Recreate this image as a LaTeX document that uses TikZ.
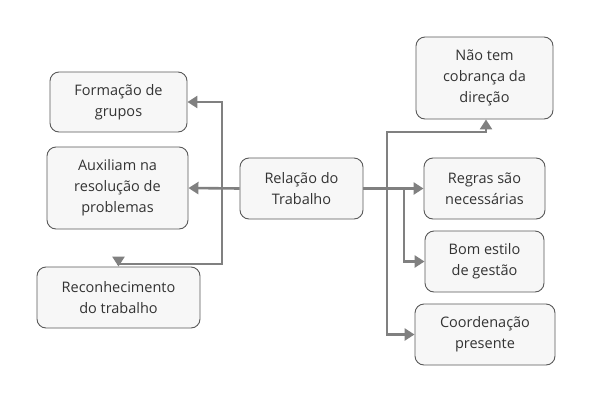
\documentclass[tikz,border=0pt]{standalone}
\usepackage{fontspec}
\setmainfont{Open Sans}
\usetikzlibrary{arrows.meta,calc}
\begin{document}
\begin{tikzpicture}[x=1pt,y=-1pt,
  box/.style={draw=black!65,line width=0.9pt,fill=black!3,rounded corners=9pt,
    align=center,inner sep=0pt,font=\fontsize{14.5}{21}\selectfont,text=black!80},
  arr/.style={draw=black!50,line width=2.6pt,-{Triangle[length=10pt,width=12pt]}}]
\useasboundingbox (0,0) rectangle (592,402);
\node[box,minimum width=137pt,minimum height=60pt] (form) at (118.5,102) {Formação de\\grupos};
\node[box,minimum width=141pt,minimum height=82pt] (aux) at (117.5,188) {Auxiliam na\\resolução de\\problemas};
\node[box,minimum width=163pt,minimum height=61pt] (recon) at (118.5,297.5) {Reconhecimento\\do trabalho};
\node[box,minimum width=123pt,minimum height=61pt] (rel) at (301.5,188.5) {Relação do\\Trabalho};
\node[box,minimum width=137pt,minimum height=82pt] (nao) at (484.5,78) {Não tem\\cobrança da\\direção};
\node[box,minimum width=121pt,minimum height=61pt] (regras) at (484.5,188.5) {Regras são\\necessárias};
\node[box,minimum width=119pt,minimum height=61pt] (bom) at (484.5,261.5) {Bom estilo\\de gestão};
\node[box,minimum width=140pt,minimum height=61pt] (coord) at (485,334.5) {Coordenação\\presente};
\coordinate (lj) at (222,188.5);
\coordinate (lbend) at (118.5,264);
\coordinate (rj1) at (387,188.5);
\coordinate (rj2) at (404,188.5);
\coordinate (rbend) at (486,132);
\draw[arr] (rel.west) -- (aux.east);
\draw[arr] (lj) |- (form.east);
\draw[arr] (lj) |- (lbend) -- (recon.north);
\draw[arr] (rel.east) -- (regras.west);
\draw[arr] (rj1) |- (rbend) -- (rbend |- nao.south);
\draw[arr] (rj1) |- (coord.west);
\draw[arr] (rj2) |- (bom.west);
\end{tikzpicture}
\end{document}
